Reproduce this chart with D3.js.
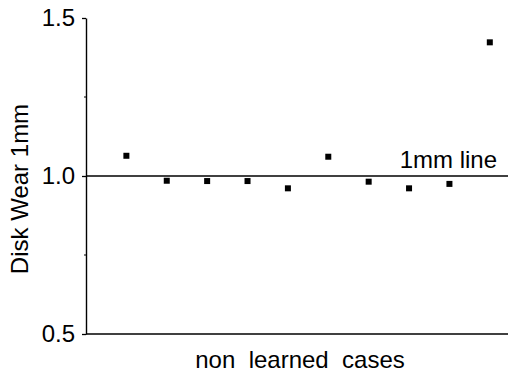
<!DOCTYPE html>
<html>
<head>
<meta charset="utf-8">
<script src="https://cdn.jsdelivr.net/npm/d3@7"></script>
<style>
  html, body { margin: 0; padding: 0; background: #fff; }
  svg { display: block; }
  text { font-family: "Liberation Sans", Arial, sans-serif; fill: #000; }
</style>
</head>
<body>
<svg id="chart" width="508" height="376"></svg>
<script>
// Disk wear measured for each non-learned case, relative to the 1mm reference
const cases = [1, 2, 3, 4, 5, 6, 7, 8, 9, 10];
const wear = [1.064, 0.985, 0.984, 0.984, 0.961, 1.061, 0.982, 0.961, 0.975, 1.423];
const yTicks = [0.5, 1.0, 1.5];
const yMinorTicks = [0.75, 1.25];
const referenceValue = 1.0;
const referenceLabel = "1mm line";
const xLabel = "non  learned  cases";
const yLabel = "Disk Wear 1mm";

const svg = d3.select("#chart");
const W = 508;
const left = 86;
const fontSize = "24px";

const x = d3.scaleLinear().domain([0, 10.5]).range([left, 510]);
const y = d3.scaleLinear().domain([0.5, 1.5]).range([334, 18]);

// y axis with major labelled ticks
const yAxis = d3.axisLeft(y)
  .tickValues(yTicks)
  .tickFormat(d3.format(".1f"))
  .tickSize(4)
  .tickSizeOuter(0)
  .tickPadding(7);

const gy = svg.append("g")
  .attr("transform", `translate(${left},0)`)
  .call(yAxis);
gy.select(".domain").attr("stroke", "#000").attr("stroke-width", 1.4);
gy.selectAll(".tick line").attr("stroke", "#000").attr("stroke-width", 1.3);
gy.selectAll(".tick text")
  .style("font-family", '"Liberation Sans", Arial, sans-serif')
  .style("font-size", fontSize)
  .attr("fill", "#000");

// minor ticks
gy.selectAll(".minor")
  .data(yMinorTicks)
  .join("line")
  .attr("class", "minor")
  .attr("x1", -2).attr("x2", 0)
  .attr("y1", d => y(d)).attr("y2", d => y(d))
  .attr("stroke", "#000").attr("stroke-width", 1);

// bottom baseline
svg.append("line")
  .attr("x1", left).attr("x2", W)
  .attr("y1", y(0.5)).attr("y2", y(0.5))
  .attr("stroke", "#000").attr("stroke-width", 1.4);

// 1mm reference line
svg.append("line")
  .attr("x1", left).attr("x2", W)
  .attr("y1", y(referenceValue)).attr("y2", y(referenceValue))
  .attr("stroke", "#000").attr("stroke-width", 1.5);

svg.append("text")
  .attr("x", 497).attr("y", y(referenceValue) - 8)
  .attr("text-anchor", "end")
  .style("font-size", fontSize)
  .text(referenceLabel);

// data points
const sz = 6;
svg.selectAll("rect.pt")
  .data(cases.map((c, i) => ({ c, v: wear[i] })))
  .join("rect")
  .attr("class", "pt")
  .attr("x", d => x(d.c) - sz / 2)
  .attr("y", d => y(d.v) - sz / 2)
  .attr("width", sz).attr("height", sz)
  .attr("fill", "#000");

// axis titles
svg.append("text")
  .attr("x", 300).attr("y", 368)
  .attr("text-anchor", "middle")
  .style("font-size", fontSize)
  .style("white-space", "pre")
  .attr("xml:space", "preserve")
  .text(xLabel);

svg.append("text")
  .attr("transform", `translate(28,189) rotate(-90)`)
  .attr("text-anchor", "middle")
  .style("font-size", fontSize)
  .text(yLabel);
</script>
</body>
</html>
